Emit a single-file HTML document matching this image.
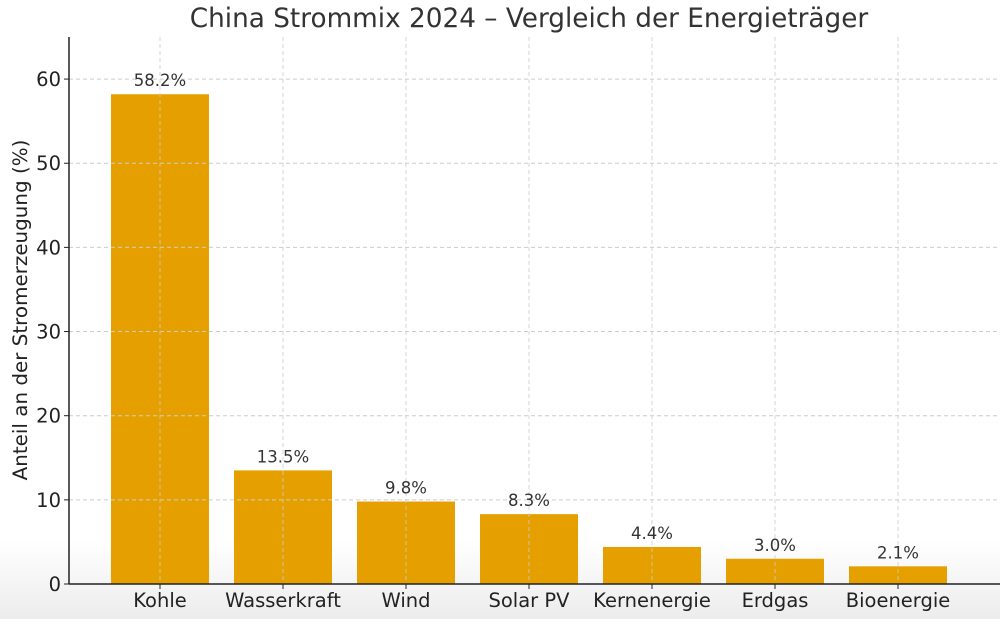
<!DOCTYPE html>
<html><head><meta charset="utf-8"><style>
body{margin:0;width:1000px;height:619px;overflow:hidden;background:linear-gradient(to bottom,#fff 0,#fff 540px,#ececec 619px);font-family:"DejaVu Sans","Liberation Sans",sans-serif;}
svg{display:block}
</style></head><body>
<svg id="chart" width="1000" height="619" xmlns="http://www.w3.org/2000/svg">
<text x="529" y="27" text-anchor="middle" font-size="26.3" fill="#333">China Strommix 2024 – Vergleich der Energieträger</text>
<text transform="translate(27,310) rotate(-90)" text-anchor="middle" font-size="19.9" fill="#222">Anteil an der Stromerzeugung (%)</text>
<g id="grid"></g><g id="bars"></g><g id="over"></g><g id="axes"></g>
</svg>
<script>
const categories=["Kohle","Wasserkraft","Wind","Solar PV","Kernenergie","Erdgas","Bioenergie"];
const values=[58.2,13.5,9.8,8.3,4.4,3.0,2.1];
const yTicks=[0,10,20,30,40,50,60];
const NS="http://www.w3.org/2000/svg";
const x0=69,yBase=584,yMax=65,yTop=37;
const y=v=>yBase-(yBase-yTop)*v/yMax;
const xc=i=>160+123*i;
function mk(t,a,p){const e=document.createElementNS(NS,t);for(const k in a)e.setAttribute(k,a[k]);document.getElementById(p).appendChild(e);return e;}
yTicks.forEach(t=>{
 const g=mk('line',{x1:x0,x2:1000,y1:y(t),y2:y(t),stroke:'#ccc','stroke-dasharray':'4,3'},'over');
 
 
 const tk=mk('line',{x1:x0-5,x2:x0,y1:y(t),y2:y(t),stroke:'#222'},'axes');
 
 
 const l=mk('text',{x:x0-8,y:y(t)+7,'text-anchor':'end','font-size':19.5,fill:'#222'},'axes');
 l.textContent=t;
 
 
});
categories.forEach((c,i)=>{
 const b=mk('rect',{x:xc(i)-49,y:y(values[i]),width:98,height:yBase-y(values[i]),fill:'#E5A000'},'bars');
 
 
 const g=mk('line',{x1:xc(i),x2:xc(i),y1:yTop,y2:yBase,stroke:'#ccc','stroke-dasharray':'4,3','stroke-opacity':0.8},'over');
 
 
 const v=mk('text',{x:xc(i),y:y(values[i])-8,'text-anchor':'middle','font-size':16.5,fill:'#333'},'over');
 v.textContent=values[i].toFixed(1)+'%';
 
 
 const tk=mk('line',{x1:xc(i),x2:xc(i),y1:yBase,y2:yBase+5,stroke:'#222'},'axes');
 
 
 const l=mk('text',{x:xc(i),y:yBase+23,'text-anchor':'middle','font-size':19.5,fill:'#222'},'axes');
 l.textContent=c;
 
 
});
const ya=mk('line',{x1:x0,x2:x0,y1:yTop,y2:yBase,stroke:'#222','stroke-width':1.5},'axes');


const xa=mk('line',{x1:x0,x2:1000,y1:yBase,y2:yBase,stroke:'#222','stroke-width':1.5},'axes');


</script>
</body></html>
